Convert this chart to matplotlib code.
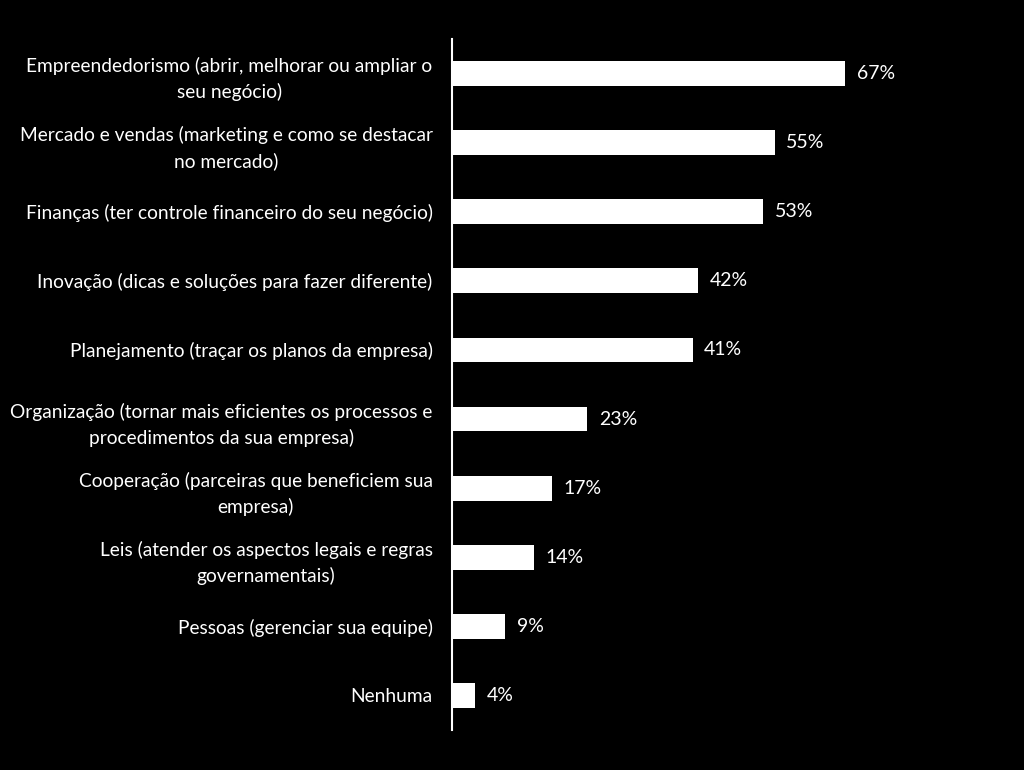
import matplotlib.pyplot as plt
import numpy as np

plt.rcParams['font.family'] = ['Lato', 'DejaVu Sans']

categories = [
    "Empreendedorismo (abrir, melhorar ou ampliar o\nseu negócio)",
    "Mercado e vendas (marketing e como se destacar\nno mercado)",
    "Finanças (ter controle financeiro do seu negócio)",
    "Inovação (dicas e soluções para fazer diferente)",
    "Planejamento (traçar os planos da empresa)",
    "Organização (tornar mais eficientes os processos e\nprocedimentos da sua empresa)",
    "Cooperação (parceiras que beneficiem sua\nempresa)",
    "Leis (atender os aspectos legais e regras\ngovernamentais)",
    "Pessoas (gerenciar sua equipe)",
    "Nenhuma",
]
values = [67, 55, 53, 42, 41, 23, 17, 14, 9, 4]

fig = plt.figure(figsize=(10.24, 7.70), dpi=100, facecolor='black')
ax = fig.add_axes([452 / 1024, 40 / 770, 572 / 1024, 691 / 770])
ax.set_facecolor('black')

y = np.arange(len(values))
ax.barh(y, values, height=0.36, color='white')

for yi, v in zip(y, values):
    ax.text(v + 2.0, yi, f"{v}%", color='white', fontsize=14,
            va='center', ha='left')

ax.set_ylim(len(values) - 0.5, -0.5)
ax.set_xlim(0, 97.5)

ax.set_yticks(y)
ax.set_yticklabels(categories, fontsize=13.8, color='white',
                   multialignment='center', linespacing=1.55)
ax.tick_params(axis='y', length=0, pad=14)
ax.set_xticks([])

for s in ['top', 'right', 'bottom']:
    ax.spines[s].set_visible(False)
ax.spines['left'].set_color('white')
ax.spines['left'].set_linewidth(1.5)

fig.savefig('out.png', dpi=100, facecolor='black')
